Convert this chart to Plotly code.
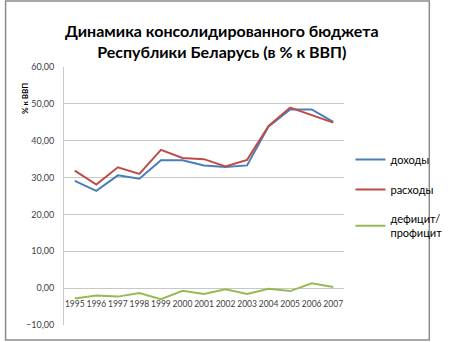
import plotly.graph_objects as go

years = ["1995", "1996", "1997", "1998", "1999", "2000", "2001",
         "2002", "2003", "2004", "2005", "2006", "2007"]
dohody = [29.1, 26.4, 30.6, 29.7, 34.7, 34.7, 33.3, 32.9, 33.3, 43.9, 48.5, 48.5, 45.1]
rashody = [31.9, 28.1, 32.8, 31.0, 37.5, 35.3, 35.0, 33.0, 34.8, 44.0, 49.0, 46.9, 44.9]
deficit = [-2.8, -2.0, -2.3, -1.3, -3.0, -0.7, -1.6, -0.3, -1.6, -0.2, -0.8, 1.3, 0.3]
names = ["доходы", "расходы", "дефицит/<br>профицит"]
colors = ["#4a7ebb", "#be4b48", "#98b954"]
title_text = "Динамика консолидированного бюджета<br>Республики Беларусь (в % к ВВП)"

W, H = 460, 342
L, R, T, B = 64, 94, 67, 17
pw, ph = W - L - R, H - T - B

fig = go.Figure()
for i, (nm, vals) in enumerate(zip(names, [dohody, rashody, deficit])):
    fig.add_trace(go.Scatter(x=years, y=vals, name=nm, mode="lines",
                             line=dict(color=colors[i], width=2),
                             legendgroup=str(i)))

fig.update_layout(
    width=W, height=H,
    margin=dict(l=L, r=R, t=T, b=B),
    paper_bgcolor="white", plot_bgcolor="white",
    separators=", ",
    font=dict(family="Lato, Open Sans, sans-serif", color="#404040"),
    xaxis=dict(type="category", anchor="free", position=10 / 70,
               showgrid=False, showline=False, ticks="", tickangle=0,
               tickfont=dict(size=8.5, color="#404040"), ticklabelstandoff=9,
               range=[-0.5, 12.5]),
    yaxis=dict(range=[-10, 60], dtick=10, tickformat=".2f",
               showgrid=True, gridcolor="#c8c8c8", gridwidth=1,
               showline=True, linecolor="#c8c8c8", linewidth=1,
               zeroline=False, ticks="", ticklabelstandoff=7,
               tickfont=dict(size=9, color="#404040")),
    legend=dict(x=(373 - L) / pw, xanchor="left", y=(H - B - 145) / ph, yanchor="top",
                font=dict(size=11, color="#000000"), tracegroupgap=11,
                bgcolor="rgba(0,0,0,0)"),
    showlegend=True,
)

fig.add_annotation(text="<b>" + title_text + "</b>", x=(234 - L) / pw, xref="paper",
                   y=(H - B - 41) / ph, yref="paper", showarrow=False,
                   xanchor="center", yanchor="middle",
                   font=dict(size=16, color="#000000", family="Lato, sans-serif"))

fig.add_annotation(text="<b>% к ВВП</b>", textangle=-90, x=(22 - L) / pw, xref="paper",
                   y=(H - B - 99) / ph, yref="paper", showarrow=False,
                   font=dict(size=8, color="#000000"), xanchor="center", yanchor="middle")

fig.add_shape(type="rect", xref="paper", yref="paper",
              x0=(1 - L) / pw, x1=(W - 2 - L) / pw,
              y0=(H - B - (H - 2)) / ph, y1=(H - B - 1) / ph,
              line=dict(color="#8c8c8c", width=1.5))

fig.write_html("out.html")
